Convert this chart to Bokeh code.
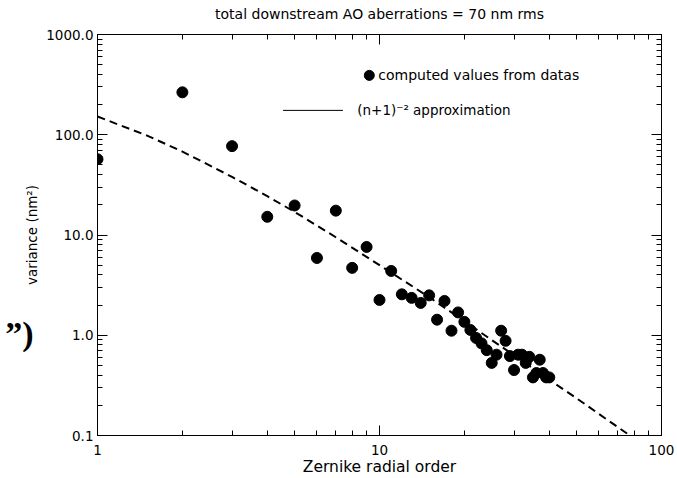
from bokeh.plotting import figure
from bokeh.models import (FixedTicker, PrintfTickFormatter, LogAxis, Label, Range1d,
                          CustomLabelingPolicy, CustomJSTickFormatter)
from bokeh.embed import file_html
from bokeh.resources import INLINE

# ---- data ----
radial_order = list(range(1, 41))
variance = [57, 265, 77, 15.2, 19.7, 5.9, 17.5, 4.7, 7.6, 2.25,
            4.38, 2.56, 2.36, 2.1, 2.5, 1.43, 2.2, 1.11, 1.69, 1.36,
            1.13, 0.94, 0.83, 0.71, 0.53, 0.64, 1.11, 0.88, 0.62, 0.45,
            0.64, 0.64, 0.53, 0.61, 0.38, 0.42, 0.57, 0.42, 0.38, 0.38]

approx_order = [1, 1.5, 2, 3, 4, 5, 7, 10, 15, 20, 30, 40, 50, 60, 75, 80]
approx_variance = [152, 98, 68, 38, 24.4, 17, 9.5, 5.0, 2.4, 1.38, 0.63,
                   0.36, 0.235, 0.164, 0.106, 0.093]

x_ticks = [1, 10, 100]
y_ticks = [0.1, 1, 10, 100, 1000]
x_minor = [m * d for d in (1, 10) for m in range(2, 10)]
y_minor = [m * d for d in (0.1, 1, 10, 100) for m in range(2, 10)]

title_text = "total downstream AO aberrations = 70 nm rms"
x_label = "Zernike radial order"
y_label = "variance (nm\u00b2)"
legend_points = "computed values from datas"
legend_line = "(n+1)\u207b\u00b2 approximation"
stray_text = "\u201d)"

FONT = "DejaVu Sans"

p = figure(width=677, height=478, x_axis_type="log", y_axis_type="log",
           x_range=Range1d(1, 100), y_range=Range1d(0.1, 1000),
           output_backend="svg", toolbar_location=None,
           min_border_left=97, min_border_right=16,
           min_border_top=34, min_border_bottom=42)

p.xgrid.visible = False
p.ygrid.visible = False
p.outline_line_color = "black"
p.outline_line_width = 1
p.background_fill_color = "white"
p.border_fill_color = "white"

no_labels = CustomLabelingPolicy(code="return new indices.constructor(indices.size, 0)")

def style_axis(ax, ticks, minor, fmt, show_labels=True):
    ax.ticker = FixedTicker(ticks=ticks, minor_ticks=minor)
    ax.formatter = PrintfTickFormatter(format=fmt)
    ax.major_tick_in = 10
    ax.major_tick_out = 0
    ax.minor_tick_in = 5
    ax.minor_tick_out = 0
    ax.axis_line_color = "black"
    ax.major_tick_line_color = "black"
    ax.minor_tick_line_color = "black"
    ax.major_label_text_font = FONT
    ax.major_label_text_color = "black"
    ax.axis_label_text_color = "black"
    ax.axis_label_text_font = FONT
    ax.axis_label_text_font_style = "normal"
    if show_labels:
        ax.major_label_text_font_size = "13.5px"
    else:
        ax.major_label_text_font_size = "0px"
        ax.major_label_policy = no_labels
        ax.major_label_standoff = 0

style_axis(p.xaxis[0], x_ticks, x_minor, "%d")
style_axis(p.yaxis[0], y_ticks, y_minor, "%.1f")
p.xaxis[0].major_label_standoff = 9
p.yaxis[0].major_label_standoff = 4

p.xaxis.axis_label = x_label
p.xaxis.axis_label_text_font_size = "15.5px"
p.xaxis.axis_label_standoff = 0

p.yaxis.axis_label = y_label
p.yaxis.axis_label_text_font_size = "13.5px"
p.yaxis.axis_label_standoff = 3

# top axis: ticks only, carries the chart title
top_ax = LogAxis()
style_axis(top_ax, x_ticks, x_minor, "%d", show_labels=False)
top_ax.axis_label = title_text
top_ax.axis_label_text_font_size = "14px"
top_ax.axis_label_standoff = 13
p.add_layout(top_ax, "above")

right_ax = LogAxis()
style_axis(right_ax, y_ticks, y_minor, "%.1f", show_labels=False)
p.add_layout(right_ax, "right")

# stray glyphs from the source document, at the far left
stray_ax = LogAxis(ticker=FixedTicker(ticks=[1.05], minor_ticks=[]),
                   formatter=CustomJSTickFormatter(code="return '%s'" % stray_text))
stray_ax.axis_line_color = None
stray_ax.major_tick_line_color = None
stray_ax.minor_tick_line_color = None
stray_ax.major_tick_in = 0
stray_ax.major_tick_out = 0
stray_ax.minor_tick_in = 0
stray_ax.minor_tick_out = 0
stray_ax.major_label_standoff = -12
stray_ax.major_label_text_font = "Liberation Serif"
stray_ax.major_label_text_font_size = "34px"
stray_ax.major_label_text_font_style = "bold"
stray_ax.major_label_text_color = "black"
p.add_layout(stray_ax, "left")

# approximation curve
p.line(approx_order, approx_variance, line_color="black", line_width=2,
       line_dash="8 5")

# computed values
p.scatter(radial_order, variance, size=11, color="black")

# legend (drawn by hand, as in the original)
p.scatter([9.2], [391], size=10, color="black")
p.add_layout(Label(x=9.9, y=391, text=legend_points, text_font=FONT,
                   text_font_size="14px", text_baseline="middle",
                   text_color="black"))
p.line([4.55, 7.42], [175, 175], line_color="black", line_width=1)
p.add_layout(Label(x=8.34, y=175, text=legend_line, text_font=FONT,
                   text_font_size="13.5px", text_baseline="middle",
                   text_color="black"))

open("out.html", "w").write(file_html(p, INLINE))
